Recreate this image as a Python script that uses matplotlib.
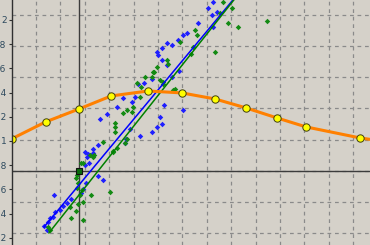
import matplotlib

matplotlib.use("Agg")
import matplotlib.pyplot as plt
from matplotlib.ticker import FuncFormatter

# curve (orange with yellow markers)
curve_x = [0.0, 1.39, 2.76, 4.08, 5.59, 6.98, 8.34, 9.61, 10.88, 12.07, 14.28, 14.8]
curve_y = [1.017, 1.157, 1.264, 1.372, 1.413, 1.397, 1.347, 1.273, 1.190, 1.116, 1.025, 1.01]
curve_marked = 11

# blue sample
blue_x = [1.33, 1.45, 1.49, 1.57, 1.70, 1.78, 1.74, 1.98, 2.11, 2.27, 2.43, 2.84,
          2.93, 3.05, 3.01, 3.09, 3.17, 3.34, 3.13, 3.34, 3.54, 3.54, 3.75, 3.62,
          3.91, 4.32, 4.57, 5.06, 4.65, 4.69, 4.85, 5.26, 5.75, 5.96, 6.16, 6.08,
          6.25, 5.43, 5.75, 5.96, 6.00, 6.16, 6.37, 6.58, 6.82, 7.02, 6.16, 6.37,
          6.58, 7.19, 7.64, 8.05, 8.21, 8.25, 8.25, 8.42, 7.02, 6.86, 5.18, 4.93, 3.01]
blue_y = [0.298, 0.265, 0.331, 0.364, 0.373, 0.414, 0.554, 0.430, 0.463, 0.488, 0.521, 0.571,
          0.604, 0.653, 0.802, 0.868, 0.819, 0.901, 0.893, 0.934, 0.967, 0.711, 0.678, 1.182,
          1.223, 1.281, 1.356, 1.364, 0.984, 1.017, 1.099, 1.042, 1.075, 1.116, 1.141, 1.199,
          1.298, 1.479, 1.512, 1.735, 1.711, 1.769, 1.810, 1.793, 1.835, 1.876, 1.669, 1.628,
          1.529, 1.892, 1.975, 2.099, 2.041, 1.942, 2.148, 2.066, 1.256, 1.578, 1.471, 1.322, 0.909]

# green sample
green_x = [1.57, 1.49, 2.43, 2.64, 2.93, 2.39, 2.93, 2.72, 2.80, 3.25, 2.89, 2.68,
           2.72, 2.64, 2.68, 2.84, 4.04, 3.34, 2.93, 4.16, 3.38, 3.21, 3.75, 4.32,
           4.16, 4.65, 4.73, 4.24, 4.24, 4.24, 4.57, 4.93, 4.73, 4.98, 5.26, 5.14,
           5.30, 5.47, 5.75, 5.84, 6.08, 6.21, 6.61, 6.37, 6.41, 6.70, 6.21, 6.90,
           7.35, 7.44, 7.52, 7.60, 8.34, 8.54, 8.66, 8.87, 9.03, 9.28, 10.48, 5.80, 5.96]
green_y = [0.265, 0.290, 0.364, 0.422, 0.348, 0.455, 0.496, 0.480, 0.554, 0.554, 0.595, 0.612,
           0.653, 0.695, 0.720, 0.819, 0.579, 0.868, 0.819, 0.909, 0.885, 0.885, 0.992, 0.942,
           0.918, 0.984, 1.017, 1.075, 1.116, 1.149, 1.232, 1.240, 1.256, 1.281, 1.364, 1.479,
           1.446, 1.529, 1.529, 1.570, 1.504, 1.471, 1.422, 1.669, 1.636, 1.430, 1.488, 1.818,
           1.719, 1.777, 1.917, 1.876, 1.735, 2.058, 2.148, 1.975, 2.099, 1.942, 1.992, 1.570, 1.612]

# fitted lines
blue_fit_x = [1.33, 9.4]
blue_fit_y = [0.289, 2.245]
green_fit_x = [1.53, 9.4]
green_fit_y = [0.240, 2.239]

# cursor
cursor_x = 2.76
cursor_y = 0.752

y_ticks = [0.2, 0.4, 0.6, 0.8, 1.0, 1.2, 1.4, 1.6, 1.8, 2.0]
grid_x = list(range(1, 15))
grid_y = [0.240, 0.496, 0.752, 1.009, 1.273, 1.529, 1.785, 2.041]

bg = "#d5d1c9"
fig = plt.figure(figsize=(3.7, 2.45), dpi=100, facecolor=bg)
ax = fig.add_axes([11.6 / 370, 0, 1 - 11.6 / 370, 1], facecolor=bg)
ax.set_xlim(0, 14.69)
ax.set_ylim(0.140, 2.165)

for gx in grid_x:
    ax.axvline(gx, color="#8a8a8a", lw=0.9, ls=(0, (3, 3)), zorder=1)
for gy in grid_y:
    ax.axhline(gy, color="#8a8a8a", lw=0.9, ls=(0, (3, 3)), zorder=1)

ax.axvline(cursor_x, color="#3c3c3c", lw=1, zorder=2)
ax.axhline(cursor_y, color="#3c3c3c", lw=1, zorder=2)

ax.plot(blue_x, blue_y, ls="none", marker="D", ms=2.8, color="#1f1fff", mew=0, zorder=3)
ax.plot(green_x, green_y, ls="none", marker="D", ms=2.8, color="#138a13", mew=0, zorder=3)
ax.plot(blue_fit_x, blue_fit_y, color="#0000ff", lw=1.1, zorder=4)
ax.plot(green_fit_x, green_fit_y, color="#008000", lw=1.1, zorder=4)

ax.plot(cursor_x, cursor_y, marker="s", ms=5, mfc="#0a6a0a", mec="#101010", mew=0.8, zorder=6)

ax.plot(curve_x, curve_y, color="#ff8000", lw=2.2, zorder=5, solid_capstyle="butt")
ax.plot(curve_x[:curve_marked], curve_y[:curve_marked], ls="none", marker="o", ms=5.3,
        mfc="#ffff00", mec="#404010", mew=0.7, zorder=6)

for side in ["top", "right", "bottom"]:
    ax.spines[side].set_visible(False)
ax.spines["left"].set_color("#303030")
ax.spines["left"].set_linewidth(1)
ax.spines["left"].set_zorder(7)
ax.set_xticks([])
ax.set_yticks(y_ticks)
ax.yaxis.set_major_formatter(FuncFormatter(lambda v, _: f"{v:g}"))
ax.tick_params(axis="y", length=2.5, width=0.8, pad=1, labelsize=6.5,
               colors="#303030", labelcolor="#2e4a5e")

fig.savefig("out.png", dpi=100, facecolor=bg)
